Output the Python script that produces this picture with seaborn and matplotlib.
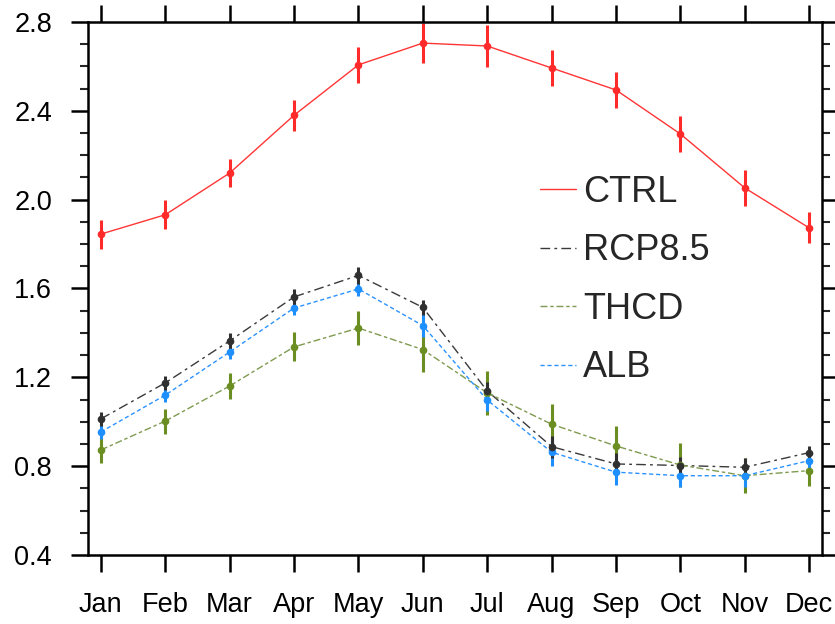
import matplotlib
matplotlib.use("Agg")
import matplotlib.pyplot as plt
from matplotlib.lines import Line2D
from matplotlib.ticker import MultipleLocator, FormatStrFormatter
import numpy as np
import pandas as pd
import seaborn as sns

months = ['Jan', 'Feb', 'Mar', 'Apr', 'May', 'Jun', 'Jul', 'Aug', 'Sep', 'Oct', 'Nov', 'Dec']
ctrl = [1.845, 1.932, 2.12, 2.38, 2.607, 2.705, 2.692, 2.593, 2.494, 2.296, 2.053, 1.873]
ctrl_err = [0.065, 0.065, 0.065, 0.07, 0.08, 0.09, 0.095, 0.08, 0.08, 0.08, 0.08, 0.07]
rcp = [1.013, 1.175, 1.364, 1.562, 1.659, 1.515, 1.139, 0.888, 0.81, 0.803, 0.795, 0.861]
rcp_err = [0.03, 0.03, 0.035, 0.035, 0.04, 0.035, 0.04, 0.05, 0.05, 0.04, 0.04, 0.03]
thcd = [0.873, 1.003, 1.161, 1.337, 1.422, 1.325, 1.13, 0.989, 0.891, 0.805, 0.757, 0.78]
thcd_err = [0.06, 0.056, 0.06, 0.065, 0.078, 0.1, 0.098, 0.09, 0.09, 0.098, 0.08, 0.07]
alb = [0.954, 1.12, 1.314, 1.512, 1.598, 1.433, 1.098, 0.863, 0.773, 0.757, 0.757, 0.825]
alb_err = [0.03, 0.03, 0.03, 0.03, 0.03, 0.05, 0.05, 0.06, 0.06, 0.05, 0.05, 0.04]

names = ['CTRL', 'RCP8.5', 'THCD', 'ALB']
line_colors = {'CTRL': '#ff3535', 'RCP8.5': '#3a3a3a', 'THCD': '#7f9a50', 'ALB': '#2a92ff'}
mark_colors = {'CTRL': '#ff2a2a', 'RCP8.5': '#303030', 'THCD': '#6b8e23', 'ALB': '#1e8fff'}
dashes = {'CTRL': '', 'RCP8.5': (7, 3, 2, 3), 'THCD': (5, 2, 2.5, 2), 'ALB': (3, 2)}

sns.set_theme(style='ticks')
plt.rcParams['font.family'] = ['Liberation Sans', 'DejaVu Sans']

x = np.arange(len(months))
df = pd.DataFrame({
    'month': np.tile(x, 4),
    'value': ctrl + rcp + thcd + alb,
    'exp': np.repeat(names, len(months)),
})

fig = plt.figure(figsize=(8.35, 6.24), dpi=100)
ax = fig.add_axes([88 / 835, 1 - 555 / 624, (822 - 88) / 835, (555 - 22) / 624])

sns.lineplot(data=df, x='month', y='value', hue='exp', style='exp',
             palette=line_colors, dashes=dashes, markers=False,
             linewidth=1.0, ax=ax, legend=False)

errs = {'CTRL': (ctrl, ctrl_err), 'RCP8.5': (rcp, rcp_err),
        'THCD': (thcd, thcd_err), 'ALB': (alb, alb_err)}
for n in ['THCD', 'ALB', 'RCP8.5', 'CTRL']:
    v, e = errs[n]
    ax.errorbar(x, v, yerr=e, fmt='o', color=mark_colors[n], ms=5.5, mew=0,
                elinewidth=2.2, capsize=0, linestyle='none')

ax.set_xlim(-0.2, 11.2)
ax.set_ylim(0.4, 2.8)
ax.set_xticks(x)
ax.set_xticklabels(months)
ax.yaxis.set_major_locator(MultipleLocator(0.4))
ax.yaxis.set_minor_locator(MultipleLocator(0.1))
ax.yaxis.set_major_formatter(FormatStrFormatter('%.1f'))
ax.set_xlabel('')
ax.set_ylabel('')
for s in ax.spines.values():
    s.set_visible(True)
    s.set_linewidth(1.8)
    s.set_color('black')
ax.tick_params(axis='both', which='major', direction='out', length=12, width=1.8,
               labelsize=19.5, colors='black', top=True, right=True)
ax.tick_params(axis='y', which='minor', direction='out', length=6, width=1.5,
               left=True, right=True)
ax.tick_params(axis='x', which='major', pad=14.5)
ax.tick_params(axis='y', which='major', pad=14)

handles = [Line2D([], [], color=line_colors[n], lw=1.0,
                  dashes=dashes[n] if dashes[n] else (None, None)) for n in names]
ax.legend(handles, names, loc='upper left', bbox_to_anchor=(540 / 835, 1 - 175 / 624),
          bbox_transform=fig.transFigure, frameon=False, fontsize=26,
          handlelength=1.0, handletextpad=0.2, labelspacing=0.65,
          borderpad=0, borderaxespad=0)

fig.savefig('out.png', dpi=100)
